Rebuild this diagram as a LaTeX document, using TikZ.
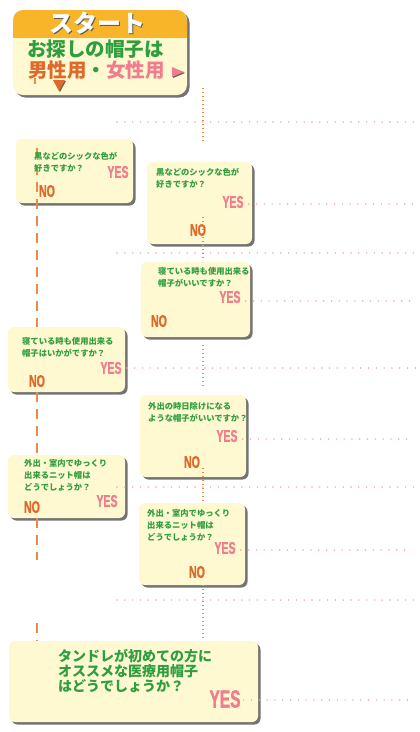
\documentclass[tikz,border=0pt]{standalone}
\usepackage{fontspec}
\newfontfamily\jpfont{Noto Sans CJK JP}
\newfontfamily\ynfont{Liberation Sans Bold}[FakeStretch=0.62, FakeBold=1.2]
\usetikzlibrary{shadows}

\definecolor{cream}{HTML}{FFF9D2}
\definecolor{startorange}{HTML}{F9B52A}
\definecolor{qgreen}{HTML}{2E9E3E}
\definecolor{yespink}{HTML}{EF7D8D}
\definecolor{noorange}{HTML}{DD6A2A}
\definecolor{lineorange}{HTML}{EE8A48}
\definecolor{dotpink}{HTML}{F6A0A6}

\tikzset{
  qbox/.style={fill=cream, rounded corners=6pt, anchor=north west, inner sep=0pt, outer sep=0pt,
    drop shadow={shadow xshift=2.5pt, shadow yshift=-2.5pt, fill=black, opacity=0.55}},
  qtext/.style={anchor=north west, inner sep=0pt, align=left, text=qgreen,
    font=\jpfont\bfseries\fontsize{8.3}{12}\selectfont},
  yes/.style={inner sep=0pt, text=yespink, font=\ynfont\fontsize{17}{17}\selectfont},
  no/.style={inner sep=0pt, text=noorange, font=\ynfont\fontsize{17}{17}\selectfont},
  yesline/.style={dotpink, line width=1.6pt, line cap=round, dash pattern=on 0pt off 7.8pt},
  vline/.style={lineorange, line width=1.4pt, dash pattern=on 1.4pt off 2.6pt},
  nodash/.style={lineorange, line width=2.2pt, dash pattern=on 10pt off 7pt},
}

\begin{document}
\begin{tikzpicture}[x=1pt, y=-1pt]
    \fill[white] (0,0) rectangle (420,732);
    \useasboundingbox (0,0) rectangle (420,732);
    \coordinate (eR) at (416,0);
    \coordinate (eS) at (408,0);

    % start box
    \node[qbox, rounded corners=10pt, minimum width=174pt, minimum height=85pt] (start) at (13,10) {};
    \begin{scope}
        \clip[rounded corners=10pt] (13,10) rectangle (187,95);
        \fill[startorange] (13,10) rectangle (187,38);
    \end{scope}
    \node[text=black!65, font=\jpfont\bfseries\fontsize{24}{24}\selectfont] at (98.5,24.5) {スタート};
    \node[text=white, font=\jpfont\bfseries\fontsize{24}{24}\selectfont] (title) at (97,23) {スタート};
    \node[anchor=west, inner sep=0pt, text=qgreen, font=\jpfont\bfseries\fontsize{19.5}{22}\selectfont] (ask) at (27,49.5) {お探しの帽子は};
    \node[anchor=west, inner sep=0pt, text=qgreen, font=\jpfont\bfseries\fontsize{19.5}{22}\selectfont] (sex) at (28,70) {\textcolor{noorange}{男性用}・\textcolor{yespink}{女性用}};
    \fill[yespink, drop shadow={shadow xshift=1pt, shadow yshift=-1pt, fill=black, opacity=0.6}] (172,67) -- (184,72) -- (172,77) -- cycle;
    \fill[noorange, drop shadow={shadow xshift=1pt, shadow yshift=-1pt, fill=black, opacity=0.6}] (53,80) -- (65,80) -- (59,91) -- cycle;
    \draw[lineorange, line width=1.5pt] (35,78) -- (35,84);

    % question boxes
    \node[qbox, minimum width=117pt, minimum height=64pt] (b1) at (16,139) {};
    \node[qbox, minimum width=105pt, minimum height=82pt] (b2) at (147,162) {};
    \node[qbox, minimum width=109pt, minimum height=75pt] (b3) at (141,262) {};
    \node[qbox, minimum width=117pt, minimum height=65pt] (b4) at (8,327) {};
    \node[qbox, minimum width=106pt, minimum height=82pt] (b5) at (140,395) {};
    \node[qbox, minimum width=117pt, minimum height=63pt] (b6) at (8,455) {};
    \node[qbox, minimum width=106pt, minimum height=82pt] (b7) at (139,503) {};
    \node[qbox, minimum width=249pt, minimum height=81pt] (b8) at (9,641) {};

    % guide lines
    \foreach \y in {122, 253, 487, 600}
        \draw[yesline] (117,\y) -- (416,\y);
    \foreach \ya/\yb in {88/142, 217/260, 345/387, 468/503, 585/640}
        \draw[vline] (203,\ya) -- (203,\yb);
    \draw[nodash] (37,148) -- (37,327);
    \draw[nodash] (37,392) -- (37,455);
    \draw[nodash] (37,518) -- (37,560);
    \draw[nodash] (37,623) -- (37,641);

    % texts
    \node[qtext] (t1) at (34,152) {黒などのシックな色が\\好きですか？};
    \node[yes] (y1) at (118,172) {YES};
    \node[no] (n1) at (47,191) {NO};
    \node[qtext] (t2) at (156,168) {黒などのシックな色が\\好きですか？};
    \node[yes] (y2) at (233,202) {YES};
    \node[no] (n2) at (198,230) {NO};
    \node[qtext] (t3) at (158,267) {寝ている時も使用出来る\\帽子がいいですか？};
    \node[yes] (y3) at (230,297) {YES};
    \node[no] (n3) at (159,321) {NO};
    \node[qtext] (t4) at (22,337) {寝ている時も使用出来る\\帽子はいかがですか？};
    \node[yes] (y4) at (111,368) {YES};
    \node[no] (n4) at (37,381) {NO};
    \node[qtext] (t5) at (148,402) {外出の時日除けになる\\ような帽子がいいですか？};
    \node[yes] (y5) at (227,436) {YES};
    \node[no] (n5) at (192,462) {NO};
    \node[qtext] (t6) at (24,459) {外出・室内でゆっくり\\出来るニット帽は\\どうでしょうか？};
    \node[yes] (y6) at (107,501) {YES};
    \node[no] (n6) at (32,507) {NO};
    \node[qtext] (t7) at (147,509) {外出・室内でゆっくり\\出来るニット帽は\\どうでしょうか？};
    \node[yes] (y7) at (225,548) {YES};
    \node[no] (n7) at (197,572) {NO};
    \node[qtext, font=\jpfont\bfseries\fontsize{14}{15}\selectfont] (t8) at (58,649) {タンドレが初めての方に\\オススメな医療用帽子\\はどうでしょうか？};
    \node[yes, font=\ynfont\fontsize{25}{25}\selectfont] (y8) at (225,699) {YES};

    % yes lines
    \coordinate (l2) at ([shift={(5,2)}]y2.east);
    \coordinate (l3) at ([shift={(5,4)}]y3.east);
    \coordinate (l4) at ([shift={(5,0)}]y4.east);
    \coordinate (l5) at ([shift={(5,3)}]y5.east);
    \coordinate (l7) at ([shift={(5,2)}]y7.east);
    \coordinate (l8) at ([shift={(3,1)}]y8.east);
    \draw[yesline] (l2) -- (l2 -| eR);
    \draw[yesline] (l3) -- (l3 -| eR);
    \draw[yesline] (l4) -- (l4 -| eR);
    \draw[yesline] (l5) -- (l5 -| eS);
    \draw[yesline] (l7) -- (l7 -| eS);
    \draw[yesline] (l8) -- (l8 -| eS);
\end{tikzpicture}
\end{document}
